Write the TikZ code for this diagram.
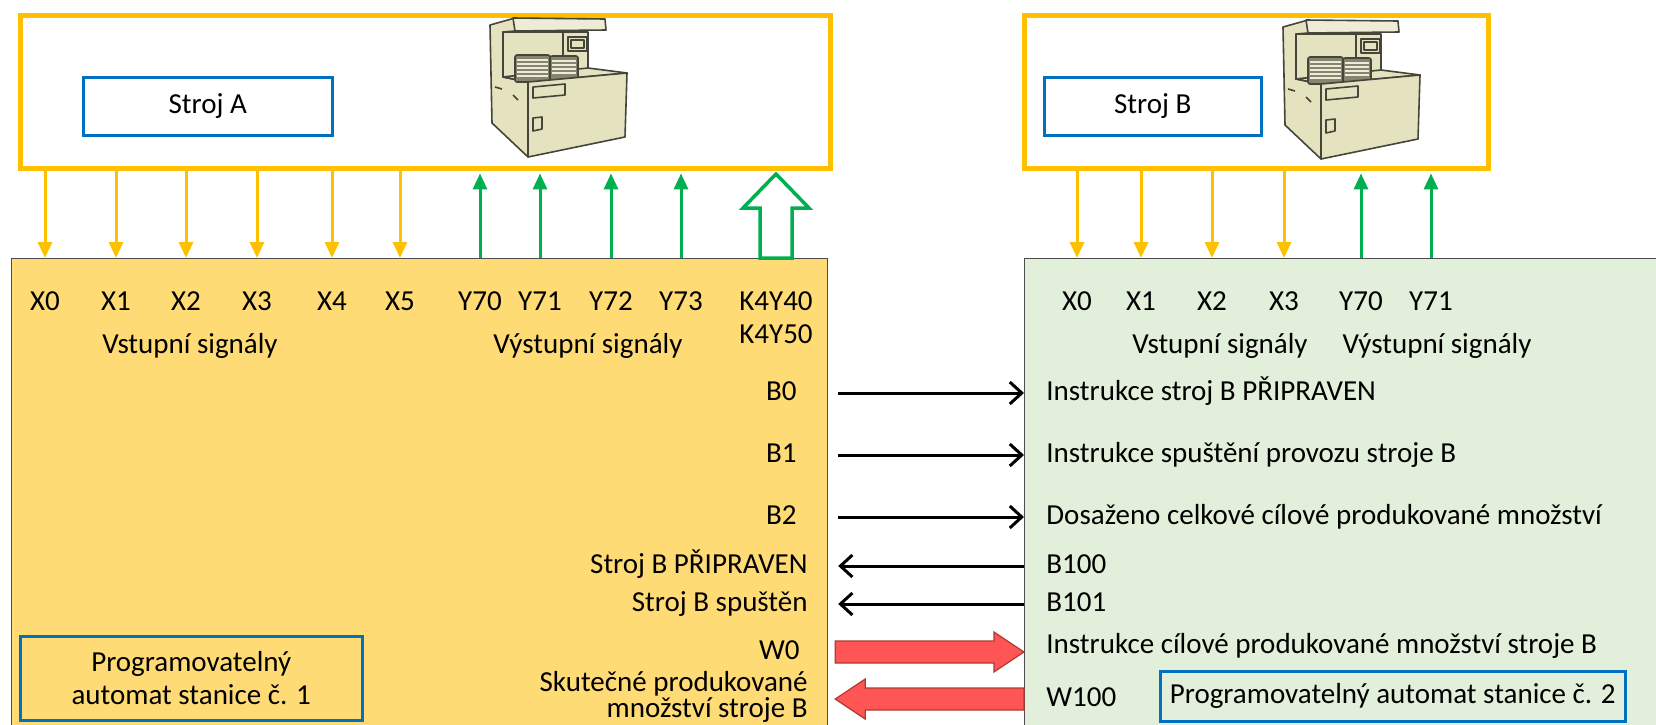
\documentclass[tikz,border=0pt]{standalone}
\usepackage{fontspec}
\setmainfont{Carlito}
\usetikzlibrary{arrows.meta,calc}
\definecolor{gold}{HTML}{FFC000}
\definecolor{plcfillA}{HTML}{FFDB76}
\definecolor{plcfillB}{HTML}{E2EFDA}
\definecolor{tagblue}{HTML}{0070C0}
\definecolor{sigreen}{HTML}{00B050}
\definecolor{redfill}{HTML}{FF5555}
\definecolor{redline}{HTML}{B03A2E}
\definecolor{beige}{HTML}{E5E2C0}
\definecolor{beigelt}{HTML}{EEECD6}
\definecolor{trayc}{HTML}{858570}
\definecolor{ink}{HTML}{45453A}

% machine icon, local pixel units, origin at its upper left corner
\tikzset{
  mach/.pic={
    \begin{scope}[draw=ink, line width=0.8pt, line join=round]
      \filldraw[fill=beige] (0,7) -- (25,0) -- (25,13) -- (13,14) -- (13,59) -- (38,64) -- (38,139) -- (2,105) -- cycle;
      \filldraw[fill=beigelt] (23,0) -- (115,1) -- (116,12) -- (25,13) -- cycle;
      \filldraw[fill=beige] (13,14) -- (98,14) -- (98,54) -- (13,59) -- cycle;
      \draw (73,15) -- (73,52);
      \filldraw[fill=beige] (78,19) rectangle (97,33);
      \draw (81,22) rectangle (94,30);
      \filldraw[fill=beige] (13,59) -- (98,50) -- (137,55) -- (38,64) -- cycle;
      \filldraw[fill=trayc, rounded corners=1pt] (25,37) rectangle (60,64);
      \filldraw[fill=trayc, rounded corners=1pt] (60,38) rectangle (88,62);
      \foreach \yy in {42,46,50,54,58}{\draw[beigelt, line width=0.6pt] (27,\yy) -- (58,\yy);}
      \foreach \yy in {43,47,51,55}{\draw[beigelt, line width=0.6pt] (62,\yy) -- (86,\yy);}
      \filldraw[fill=beige] (38,64) -- (137,55) -- (135,119) -- (38,139) -- cycle;
      \draw (43,69) -- (75,66) -- (75,77) -- (43,80) -- cycle;
      \draw (43,100) -- (52,99) -- (52,111) -- (43,113) -- cycle;
      \draw (5,69) -- (12,71);
      \draw (23,77) -- (28,82);
    \end{scope}
  }
}

\begin{document}
\begin{tikzpicture}[x=0.5pt,y=-0.5pt,
  every node/.style={font=\fontsize{14.5}{16.5}\selectfont, inner sep=0pt},
  txt/.style={text height=10.3pt, text depth=3pt},
  machframe/.style={draw=gold, line width=2.5pt, fill=white, anchor=north west, minimum height=76.5pt},
  plcbody/.style={draw=black!70, line width=0.6pt, anchor=north west, minimum height=250pt},
  tag/.style={draw=tagblue, line width=1.25pt, anchor=north west, align=center},
  sigin/.style={draw=gold, line width=1.5pt, -{Triangle[length=8pt,width=7pt]}},
  sigout/.style={draw=sigreen, line width=1.5pt, shorten >=1.2pt, -{Triangle[length=8pt,width=7pt]}},
  link/.style={line width=1.5pt, -{Straight Barb[length=6pt,width=11pt]}},
  blockred/.style={fill=redfill, draw=redline, line width=0.6pt},
  hollow/.style={fill=white, draw=sigreen, line width=1.75pt},
]
\useasboundingbox (0,0) rectangle (1656,724);

% controller bodies and machine frames
\node[plcbody, fill=plcfillA, minimum width=408pt] (plcA) at (11,258) {};
\node[plcbody, fill=plcfillB, minimum width=350pt] (plcB) at (1024,258) {};
\node[machframe, minimum width=405pt] (boxA) at (18,13) {};
\node[machframe, minimum width=232pt] (boxB) at (1022,13) {};
\node[tag, minimum width=124.5pt, minimum height=29pt] (tagA) at (82,76) {Stroj A};
\node[tag, minimum width=108.5pt, minimum height=29pt] (tagB) at (1043,76) {Stroj B};
\pic at (490,18) {mach};
\pic at (1283,20) {mach};
\node[tag, minimum width=171pt, minimum height=42pt] (tagC) at (19,635) {Programovatelný\\automat stanice č. 1};
\node[tag, minimum width=232.5pt, minimum height=25pt] (tagD) at (1159,670) {Programovatelný automat stanice č. 2};

% I/O labels, station 1
\foreach \n/\x in {X0/45,X1/116,X2/186,X3/257,X4/332,X5/400,Y70/480,Y71/540,Y72/611,Y73/681}
  \node[txt] (a\n) at (\x,303) {\n};
\node[txt] (aK40) at (776,303) {K4Y40};
\node[txt] (aK50) at (776,336) {K4Y50};
\node[txt] (aIn) at (190,346) {Vstupní signály};
\node[txt] (aOut) at (588,346) {Výstupní signály};

% I/O labels, station 2
\foreach \n/\x in {X0/1077,X1/1141,X2/1212,X3/1284,Y70/1361,Y71/1431}
  \node[txt] (b\n) at (\x,303) {\n};
\node[txt] (bIn) at (1220,346) {Vstupní signály};
\node[txt] (bOut) at (1437,346) {Výstupní signály};

% signal wires
\foreach \n in {X0,X1,X2,X3,X4,X5}
  \draw[sigin] (boxA.south -| a\n) -- (plcA.north -| a\n);
\foreach \n in {Y70,Y71,Y72,Y73}
  \draw[sigout] (plcA.north -| a\n) -- (boxA.south -| a\n);
\foreach \n in {X0,X1,X2,X3}
  \draw[sigin] (boxB.south -| b\n) -- (plcB.north -| b\n);
\foreach \n in {Y70,Y71}
  \draw[sigout] (plcB.north -| b\n) -- (boxB.south -| b\n);

% word output as a hollow block arrow
\coordinate (hb) at (plcA.north -| aK40);
\coordinate (ht) at (boxA.south -| aK40);
\draw[hollow] ($(hb)+(-16,0)$) -- ($(ht)+(-16,37)$) -- ($(ht)+(-33,37)$) -- ($(ht)+(0,3)$)
  -- ($(ht)+(33,37)$) -- ($(ht)+(16,37)$) -- ($(hb)+(16,0)$) -- cycle;

% link devices, station 1 side
\node[txt, anchor=east] (tB0) at (797,393) {B0};
\node[txt, anchor=east] (tB1) at (797,455) {B1};
\node[txt, anchor=east] (tB2) at (797,517) {B2};
\node[txt, anchor=east] (tRdy) at (808,566) {Stroj B PŘIPRAVEN};
\node[txt, anchor=east] (tRun) at (808,604) {Stroj B spuštěn};
\node[txt, anchor=east] (tW0) at (800,652) {W0};
\node[anchor=east, align=right, font=\fontsize{14.5}{11.5}\selectfont] (tAct) at (808,697) {Skutečné produkované\\množství stroje B};

% link devices, station 2 side
\node[txt, anchor=west] (rB0) at (1046,393) {Instrukce stroj B PŘIPRAVEN};
\node[txt, anchor=west] (rB1) at (1046,455) {Instrukce spuštění provozu stroje B};
\node[txt, anchor=west] (rB2) at (1046,517) {Dosaženo celkové cílové produkované množství};
\node[txt, anchor=west] (rB100) at (1046,566) {B100};
\node[txt, anchor=west] (rB101) at (1046,604) {B101};
\node[txt, anchor=west] (rW0) at (1046,646) {Instrukce cílové produkované množství stroje B};
\node[txt, anchor=west] (rW100) at (1046,699) {W100};

% bit links
\foreach \t in {B0,B1,B2}
  \draw[link, shorten <=5pt] (plcA.east |- t\t) -- (plcB.west |- t\t);
\foreach \t in {B100,B101}
  \draw[link, shorten >=5pt] (plcB.west |- r\t) -- (plcA.east |- r\t);

% word links
\coordinate (w0s) at ($(plcA.east |- tW0)+(7,0)$);
\coordinate (w0e) at (plcB.west |- tW0);
\draw[blockred] ($(w0s)+(0,-11)$) -- ($(w0e)+(-30,-11)$) -- ($(w0e)+(-30,-20)$) -- (w0e)
  -- ($(w0e)+(-30,20)$) -- ($(w0e)+(-30,11)$) -- ($(w0s)+(0,11)$) -- cycle;
\coordinate (w1s) at (plcB.west |- rW100);
\coordinate (w1e) at ($(plcA.east |- rW100)+(7,0)$);
\draw[blockred] ($(w1s)+(0,-11)$) -- ($(w1e)+(30,-11)$) -- ($(w1e)+(30,-20)$) -- (w1e)
  -- ($(w1e)+(30,20)$) -- ($(w1e)+(30,11)$) -- ($(w1s)+(0,11)$) -- cycle;
\end{tikzpicture}
\end{document}
